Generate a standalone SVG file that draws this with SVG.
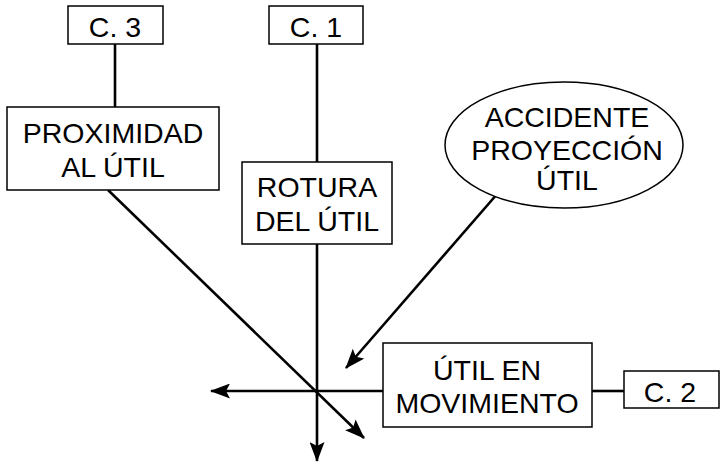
<svg xmlns="http://www.w3.org/2000/svg" width="720" height="462" viewBox="0 0 720 462">
<style>
.box{fill:#fff;stroke:#000;stroke-width:1.5}
.ln{fill:none;stroke:#000;stroke-width:2.6}
text{font-family:"Liberation Sans",Arial,sans-serif;font-size:28.5px;fill:#000;text-anchor:middle}
</style>
<defs>
<marker id="ah" viewBox="0 0 20 15" refX="19" refY="7.5" markerWidth="20" markerHeight="15" markerUnits="userSpaceOnUse" orient="auto">
<path d="M0,0 L20,7.5 L0,15 L4,7.5 Z" fill="#000"/>
</marker>
</defs>
<g id="connectors">
<line class="ln" x1="115" y1="44" x2="115" y2="107"/>
<line class="ln" x1="317" y1="44" x2="317" y2="162"/>
<line class="ln" x1="317" y1="244" x2="317" y2="461" marker-end="url(#ah)"/>
<line class="ln" x1="383" y1="391" x2="211" y2="391" marker-end="url(#ah)"/>
<line class="ln" x1="592" y1="391" x2="624" y2="391"/>
<line class="ln" x1="108" y1="190" x2="364" y2="438" marker-end="url(#ah)"/>
<line class="ln" x1="498" y1="193" x2="346" y2="368" marker-end="url(#ah)"/>
</g>
<g id="c3"><rect class="box" x="68" y="6" width="95" height="38"/><text x="115" y="37">C. 3</text></g>
<g id="c1"><rect class="box" x="269" y="6" width="94" height="38"/><text x="316" y="37">C. 1</text></g>
<g id="proximidad"><rect class="box" x="7" y="107" width="212" height="83"/><text x="113" y="143">PROXIMIDAD</text><text x="113" y="177">AL ÚTIL</text></g>
<g id="rotura"><rect class="box" x="242" y="162" width="150" height="82"/><text x="317" y="197">ROTURA</text><text x="317" y="231">DEL ÚTIL</text></g>
<g id="accidente"><ellipse class="box" cx="564" cy="145" rx="119" ry="63"/><text x="567" y="127">ACCIDENTE</text><text x="567" y="160">PROYECCIÓN</text><text x="567" y="190">ÚTIL</text></g>
<g id="movimiento"><rect class="box" x="383" y="343" width="209" height="84"/><text x="487" y="380">ÚTIL EN</text><text x="487" y="413">MOVIMIENTO</text></g>
<g id="c2"><rect class="box" x="624" y="371" width="95" height="37"/><text x="670" y="402">C. 2</text></g>
</svg>
